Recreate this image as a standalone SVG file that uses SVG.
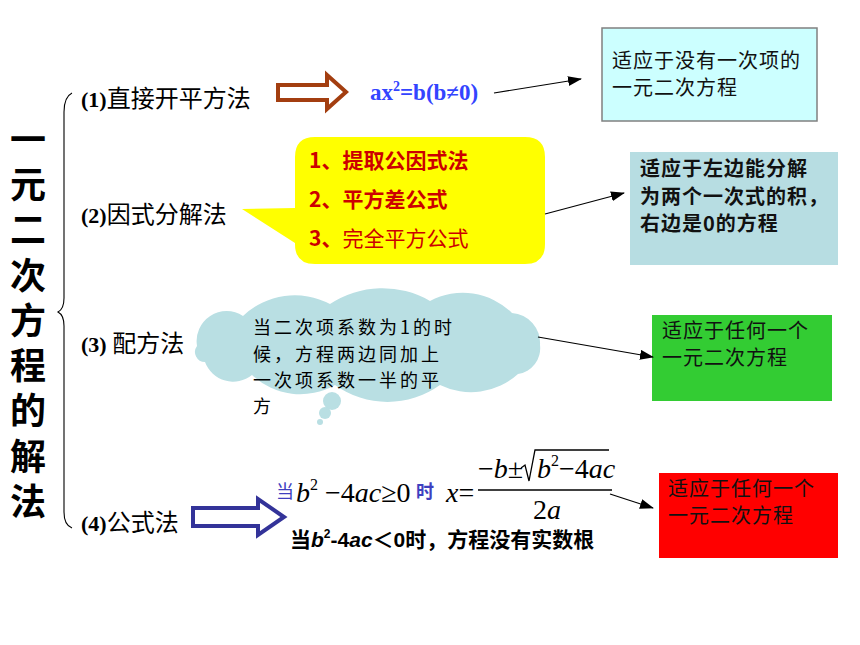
<svg xmlns="http://www.w3.org/2000/svg" width="860" height="645" viewBox="0 0 860 645">
<style>
.cjk{font-family:"Noto Sans CJK SC","Noto Sans",sans-serif}
.ser{font-family:"Liberation Serif","Times New Roman",serif}
.title{font-family:"Noto Sans CJK SC",sans-serif;font-size:36px;font-weight:bold;fill:#000;writing-mode:vertical-rl;letter-spacing:9.3px}
.lbl{font-size:24px;fill:#000}
.boxt{font-family:"Noto Sans CJK SC",sans-serif;font-size:20px;letter-spacing:1px;fill:#111}
.red{font-family:"Noto Sans CJK SC",sans-serif;font-size:21px;fill:#CC0000}
.conn{stroke:#000;stroke-width:1.2;fill:none;marker-end:url(#ah)}
.mth{font-family:"Liberation Serif","Times New Roman",serif;font-size:28px;fill:#000}
</style>
<defs>
<marker id="ah" markerUnits="userSpaceOnUse" markerWidth="14" markerHeight="10" refX="13" refY="5" orient="auto">
<path d="M0,0 L14,5 L0,10 Z" fill="#000"/>
</marker>
</defs>
<rect width="860" height="645" fill="#fff"/>

<g id="title">
<text class="title" x="28" y="121">一元二次方程的解法</text>
</g>

<g id="brace">
<path d="M72,93 Q64,97 64,112 L64,298 Q64,309 58,312 Q64,315 64,326 L64,512 Q64,525 72,528" fill="none" stroke="#000" stroke-width="1.1"/>
</g>

<g id="label1"><text class="lbl" x="81" y="107"><tspan class="ser" font-weight="bold" font-size="22">(1)</tspan><tspan class="cjk">直接开平方法</tspan></text></g>
<g id="label2"><text class="lbl" x="81" y="223"><tspan class="ser" font-weight="bold" font-size="22">(2)</tspan><tspan class="cjk">因式分解法</tspan></text></g>
<g id="label3"><text class="lbl" x="81" y="352"><tspan class="ser" font-weight="bold" font-size="22">(3) </tspan><tspan class="cjk">配方法</tspan></text></g>
<g id="label4"><text class="lbl" x="81" y="531"><tspan class="ser" font-weight="bold" font-size="22">(4)</tspan><tspan class="cjk">公式法</tspan></text></g>

<g id="arrow-brown">
<path d="M278,85 L327,85 L327,75 L346,92 L327,109 L327,100 L278,100 Z" fill="#fff" stroke="#A33E10" stroke-width="4" stroke-linejoin="miter"/>
</g>

<g id="eq1">
<text class="ser" x="370" y="100" font-size="23" font-weight="bold" fill="#3344FF">ax<tspan dy="-9" font-size="14">2</tspan><tspan dy="9">=b(b≠0)</tspan></text>
</g>

<g id="box1">
<rect x="602" y="28" width="215" height="93" fill="#CCFFFF" stroke="#808080" stroke-width="1.5"/>
<text class="boxt"><tspan x="612" y="68">适应于没有一次项的</tspan><tspan x="612" y="95">一元二次方程</tspan></text>
</g>

<g id="callout">
<path d="M315,137 L525,137 Q545,137 545,157 L545,244 Q545,264 525,264 L315,264 Q295,264 295,244 L295,243 L242,209 L295,208 L295,157 Q295,137 315,137 Z" fill="#FFFF00"/>
<text class="red"><tspan x="309" y="168" font-weight="bold">1、提取公因式法</tspan><tspan x="309" y="207" font-weight="bold">2、平方差公式</tspan><tspan x="309" y="246" font-weight="bold">3、</tspan><tspan>完全平方公式</tspan></text>
</g>

<g id="box2">
<rect x="630" y="152" width="208" height="113" fill="#B7DDE2"/>
<text class="boxt" font-weight="bold" letter-spacing="1.6"><tspan x="640" y="176">适应于左边能分解</tspan><tspan x="640" y="204">为两个一次式的积，</tspan><tspan x="640" y="231">右边是0的方程</tspan></text>
</g>

<g id="cloud">
<path d="M197,346 A30,30 0 0 1 243,316 A75,75 0 0 1 330,304 A95,95 0 0 1 430,301 A70,70 0 0 1 512,313 A30,30 0 0 1 540,345 A26,26 0 0 1 518,374 A70,70 0 0 1 440,385 A90,90 0 0 1 335,385 A70,70 0 0 1 252,375 A30,30 0 0 1 205,362 A10,10 0 0 1 197,346 Z" fill="#B9DFE3"/>
<circle cx="332" cy="401" r="9" fill="#B9DFE3"/>
<circle cx="325" cy="413" r="6" fill="#B9DFE3"/>
<circle cx="320" cy="422" r="3" fill="#B9DFE3"/>
<text class="cjk" font-size="18" letter-spacing="3" fill="#000"><tspan x="253" y="334">当二次项系数为1的时</tspan><tspan x="253" y="361">候，方程两边同加上</tspan><tspan x="253" y="387">一次项系数一半的平</tspan><tspan x="253" y="413">方</tspan></text>
</g>

<g id="box3">
<rect x="652" y="315" width="180" height="86" fill="#33CC33"/>
<text class="boxt"><tspan x="662" y="338">适应于任何一个</tspan><tspan x="662" y="365">一元二次方程</tspan></text>
</g>

<g id="arrow-blue">
<path d="M193,508 L258,508 L258,499 L284,517 L258,535 L258,526 L193,526 Z" fill="#fff" stroke="#333399" stroke-width="4"/>
</g>

<g id="formula">
<path d="M521,468 L525,465 L529,481 L535,450 L609,450" fill="none" stroke="#000" stroke-width="1.3"/>
<line x1="478" y1="490" x2="612" y2="490" stroke="#000" stroke-width="1.3"/>
<text class="mth"><tspan class="cjk" x="276" y="498" font-size="18" fill="#3F3FBF">当</tspan><tspan x="296" y="502" font-style="italic">b</tspan><tspan font-size="16" dy="-12">2</tspan><tspan dy="12"> −4</tspan><tspan font-style="italic">ac</tspan><tspan>≥0</tspan><tspan class="cjk" x="416" y="498" font-size="18" font-weight="bold" fill="#3F3FBF">时</tspan><tspan x="446" y="502" font-style="italic">x</tspan><tspan>=</tspan><tspan x="478" y="478">−</tspan><tspan font-style="italic">b</tspan><tspan>±</tspan><tspan x="537" y="478" font-style="italic">b</tspan><tspan font-size="16" dy="-12">2</tspan><tspan dy="12">−4</tspan><tspan font-style="italic">ac</tspan><tspan x="533" y="519">2</tspan><tspan font-style="italic">a</tspan></text>
<text x="290" y="547" font-size="21" font-weight="bold" fill="#000"><tspan class="cjk">当</tspan><tspan font-family="Liberation Sans" font-style="italic">b</tspan><tspan font-family="Liberation Sans" font-size="12" dy="-9">2</tspan><tspan font-family="Liberation Sans" dy="9">-4</tspan><tspan font-family="Liberation Sans" font-style="italic">ac</tspan><tspan class="cjk">＜</tspan><tspan font-family="Liberation Sans">0</tspan><tspan class="cjk">时，方程没有实数根</tspan></text>
</g>

<g id="box4">
<rect x="659" y="473" width="179" height="85" fill="#FF0000"/>
<text class="boxt"><tspan x="668" y="496">适应于任何一个</tspan><tspan x="668" y="523">一元二次方程</tspan></text>
</g>

<g id="connectors">
<line class="conn" x1="494" y1="93" x2="581" y2="79"/>
<line class="conn" x1="545" y1="214" x2="624" y2="193"/>
<line class="conn" x1="538" y1="337" x2="653" y2="357"/>
<line class="conn" x1="610" y1="494" x2="653" y2="508"/>
</g>
</svg>
